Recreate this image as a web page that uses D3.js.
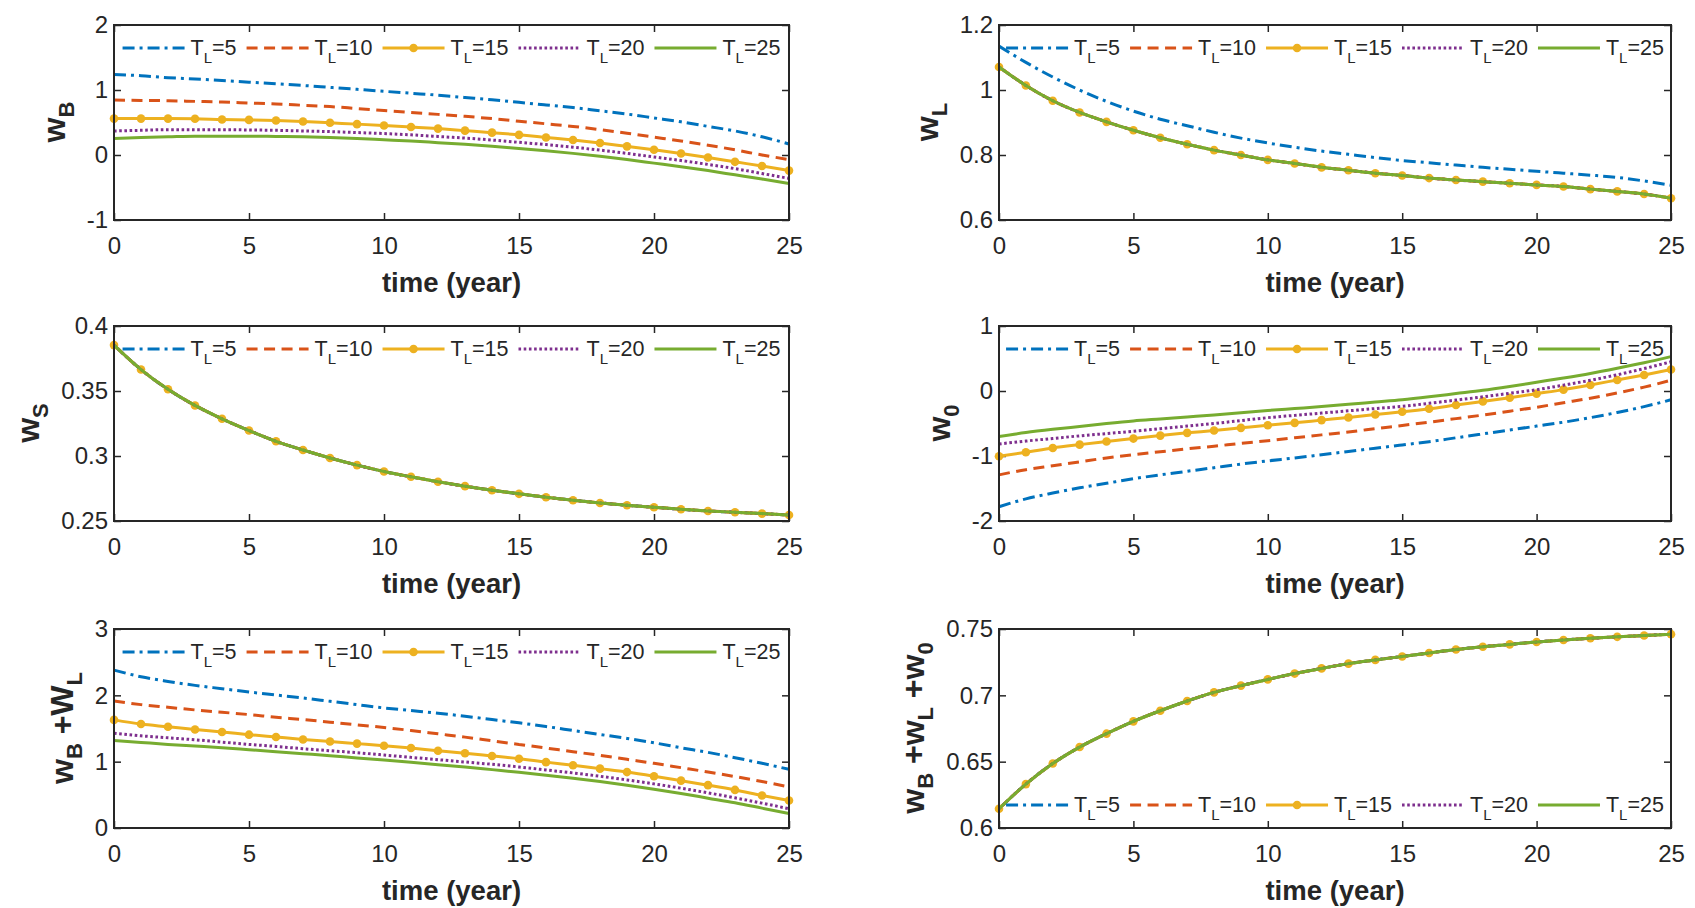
<!DOCTYPE html>
<html>
<head>
<meta charset="utf-8">
<script src="https://d3js.org/d3.v7.min.js"></script>
<style>
  body { margin: 0; background: #fff; }
  text { font-family: "Liberation Sans", Arial, Helvetica, sans-serif; fill: #262626; }
</style>
</head>
<body>
<svg id="fig" width="1695" height="908"></svg>
<script>
// ---- data: values at every year ----
var years = [0,1,2,3,4,5,6,7,8,9,10,11,12,13,14,15,16,17,18,19,20,21,22,23,24,25];
var seriesNames = ["5", "10", "15", "20", "25"];
var xTicks = [0, 5, 10, 15, 20, 25];

// w_B
var wB_5  = [1.24,1.22,1.19,1.17,1.145,1.12,1.095,1.07,1.04,1.01,0.98,0.95,0.92,0.885,0.85,0.81,0.77,0.73,0.68,0.63,0.57,0.51,0.44,0.37,0.28,0.17];
var wB_10 = [0.845,0.84,0.835,0.825,0.815,0.80,0.785,0.765,0.745,0.715,0.685,0.655,0.625,0.595,0.56,0.52,0.48,0.44,0.39,0.335,0.275,0.215,0.15,0.08,0.0,-0.07];
var wB_15 = [0.56,0.56,0.56,0.557,0.547,0.54,0.53,0.516,0.495,0.475,0.453,0.43,0.406,0.375,0.344,0.31,0.27,0.23,0.185,0.133,0.08,0.024,-0.038,-0.105,-0.17,-0.24];
var wB_20 = [0.37,0.38,0.39,0.39,0.39,0.385,0.38,0.37,0.36,0.345,0.33,0.31,0.285,0.26,0.23,0.195,0.16,0.12,0.075,0.025,-0.03,-0.085,-0.145,-0.21,-0.285,-0.36];
var wB_25 = [0.255,0.27,0.28,0.29,0.29,0.29,0.285,0.28,0.27,0.255,0.235,0.215,0.19,0.165,0.135,0.10,0.065,0.025,-0.02,-0.07,-0.125,-0.18,-0.24,-0.305,-0.37,-0.44];

// w_L
var wL_5    = [1.135,1.085,1.04,1.0,0.965,0.935,0.91,0.89,0.87,0.852,0.837,0.824,0.812,0.802,0.792,0.783,0.776,0.769,0.762,0.756,0.75,0.744,0.738,0.731,0.72,0.707];
var wL_rest = [1.071,1.014,0.967,0.931,0.902,0.876,0.853,0.833,0.815,0.80,0.785,0.774,0.762,0.753,0.744,0.737,0.729,0.723,0.718,0.713,0.708,0.703,0.695,0.688,0.680,0.667];

// w_S (all five curves coincide)
var wS_all = [0.3853,0.3665,0.3513,0.3389,0.3286,0.3196,0.3113,0.3046,0.2985,0.293,0.2881,0.284,0.2802,0.2768,0.2737,0.2709,0.2683,0.266,0.2639,0.2621,0.2606,0.259,0.2577,0.2567,0.2557,0.2546];

// w_0
var w0_5  = [-1.78,-1.66,-1.57,-1.49,-1.42,-1.35,-1.29,-1.235,-1.18,-1.125,-1.075,-1.03,-0.98,-0.93,-0.88,-0.83,-0.78,-0.72,-0.66,-0.60,-0.54,-0.48,-0.41,-0.33,-0.24,-0.135];
var w0_10 = [-1.29,-1.21,-1.15,-1.09,-1.03,-0.98,-0.935,-0.89,-0.85,-0.805,-0.765,-0.72,-0.675,-0.63,-0.58,-0.53,-0.48,-0.425,-0.37,-0.31,-0.25,-0.18,-0.11,-0.03,0.06,0.165];
var w0_15 = [-1.005,-0.943,-0.876,-0.825,-0.778,-0.732,-0.686,-0.644,-0.608,-0.567,-0.526,-0.49,-0.448,-0.407,-0.361,-0.32,-0.273,-0.216,-0.16,-0.103,-0.041,0.021,0.093,0.17,0.247,0.33];
var w0_20 = [-0.815,-0.77,-0.73,-0.69,-0.655,-0.62,-0.58,-0.54,-0.50,-0.455,-0.41,-0.375,-0.34,-0.305,-0.27,-0.237,-0.19,-0.14,-0.09,-0.035,0.02,0.09,0.165,0.25,0.345,0.45];
var w0_25 = [-0.70,-0.64,-0.59,-0.545,-0.50,-0.46,-0.43,-0.40,-0.37,-0.335,-0.30,-0.27,-0.24,-0.205,-0.17,-0.135,-0.09,-0.04,0.01,0.07,0.135,0.2,0.27,0.35,0.435,0.53];

// w_B + w_L
var wBL_5  = [2.38,2.28,2.21,2.15,2.10,2.05,2.005,1.96,1.91,1.86,1.81,1.77,1.73,1.685,1.635,1.585,1.53,1.47,1.41,1.35,1.285,1.21,1.14,1.06,0.975,0.885];
var wBL_10 = [1.915,1.86,1.82,1.78,1.745,1.71,1.67,1.635,1.595,1.555,1.515,1.47,1.42,1.37,1.315,1.26,1.205,1.15,1.095,1.035,0.975,0.91,0.845,0.775,0.70,0.62];
var wBL_15 = [1.63,1.567,1.526,1.484,1.448,1.407,1.371,1.335,1.303,1.272,1.241,1.205,1.164,1.127,1.086,1.045,0.993,0.947,0.895,0.843,0.781,0.714,0.646,0.574,0.491,0.414];
var wBL_20 = [1.43,1.39,1.36,1.33,1.295,1.26,1.23,1.195,1.165,1.135,1.10,1.065,1.03,0.995,0.96,0.92,0.875,0.83,0.78,0.725,0.665,0.60,0.53,0.455,0.375,0.29];
var wBL_25 = [1.32,1.29,1.26,1.235,1.21,1.18,1.15,1.12,1.09,1.055,1.025,0.99,0.955,0.92,0.88,0.84,0.795,0.75,0.70,0.645,0.585,0.52,0.45,0.38,0.30,0.22];

// w_B + w_L + w_0 (all five curves coincide)
var wSum_all = [0.6145,0.6331,0.6486,0.661,0.6711,0.6804,0.6884,0.6957,0.7022,0.7073,0.712,0.7164,0.7203,0.7239,0.7267,0.7293,0.7319,0.7345,0.7366,0.7384,0.7402,0.7417,0.743,0.7441,0.7451,0.7461];

// y ticks per panel
var ticksB = [-1, 0, 1, 2],          labelsB = ["-1", "0", "1", "2"];
var ticksL = [0.6, 0.8, 1, 1.2],     labelsL = ["0.6", "0.8", "1", "1.2"];
var ticksS = [0.25, 0.3, 0.35, 0.4], labelsS = ["0.25", "0.3", "0.35", "0.4"];
var ticks0 = [-2, -1, 0, 1],         labels0 = ["-2", "-1", "0", "1"];
var ticksBL = [0, 1, 2, 3],          labelsBL = ["0", "1", "2", "3"];
var ticksSum = [0.6, 0.65, 0.7, 0.75], labelsSum = ["0.6", "0.65", "0.7", "0.75"];

// ---- styles ----
var colors = ["#0072BD", "#D95319", "#EDB120", "#7E2F8E", "#77AC30"];
var dashes = ["12,5,3,5", "11,6.5", null, "2.6,2.6", null];
var axisColor = "#262626";
var lineW = 3;

var panels = [
  { col: 0, row: 0, domain: [-1, 2], ticks: ticksB, labels: labelsB, series: [wB_5, wB_10, wB_15, wB_20, wB_25],
    ylabel: [["w",0],["B",1]], legend: "top" },
  { col: 1, row: 0, domain: [0.6, 1.2], ticks: ticksL, labels: labelsL, series: [wL_5, wL_rest, wL_rest, wL_rest, wL_rest],
    ylabel: [["w",0],["L",1]], legend: "top" },
  { col: 0, row: 1, domain: [0.25, 0.4], ticks: ticksS, labels: labelsS, series: [wS_all, wS_all, wS_all, wS_all, wS_all],
    ylabel: [["w",0],["S",1]], legend: "top" },
  { col: 1, row: 1, domain: [-2, 1], ticks: ticks0, labels: labels0, series: [w0_5, w0_10, w0_15, w0_20, w0_25],
    ylabel: [["w",0],["0",1]], legend: "top" },
  { col: 0, row: 2, domain: [0, 3], ticks: ticksBL, labels: labelsBL, series: [wBL_5, wBL_10, wBL_15, wBL_20, wBL_25],
    ylabel: [["w",0],["B",1],[" +W",0],["L",1]], legend: "top" },
  { col: 1, row: 2, domain: [0.6, 0.75], ticks: ticksSum, labels: labelsSum, series: [wSum_all, wSum_all, wSum_all, wSum_all, wSum_all],
    ylabel: [["w",0],["B",1],[" +w",0],["L",1],[" +w",0],["0",1]], legend: "bottom" }
];

var colX = [114, 999], colW = [675, 672];
var rowY = [25, 326, 629], plotH = [195, 195, 199];

var svg = d3.select("#fig");

panels.forEach(function (p) {
  var w = colW[p.col], h = plotH[p.row];
  var g = svg.append("g").attr("transform", "translate(" + colX[p.col] + "," + rowY[p.row] + ")");

  var x = d3.scaleLinear().domain([0, 25]).range([0, w]);
  var y = d3.scaleLinear().domain(p.domain).range([h, 0]);

  // axes, ticks pointing in
  var styleAxis = function (a) {
    a.select(".domain").remove();
    a.selectAll(".tick line").attr("stroke", axisColor).attr("stroke-width", 1.5);
    a.selectAll(".tick text").attr("fill", axisColor).style("font-size", "24px");
  };
  g.append("g").attr("transform", "translate(0," + h + ")")
    .call(d3.axisBottom(x).tickValues(xTicks).tickFormat(function (d) { return d; }).tickSize(-7).tickPadding(17))
    .call(styleAxis);
  g.append("g")
    .call(d3.axisTop(x).tickValues(xTicks).tickFormat("").tickSize(-7))
    .call(styleAxis);
  var yAxis = g.append("g")
    .call(d3.axisLeft(y).tickValues(p.ticks).tickFormat(function (d, i) { return p.labels[i]; }).tickSize(-7).tickPadding(6))
    .call(styleAxis);
  g.append("g").attr("transform", "translate(" + w + ",0)")
    .call(d3.axisRight(y).tickValues(p.ticks).tickFormat("").tickSize(-7))
    .call(styleAxis);

  // lines
  var line = d3.line()
    .x(function (d, i) { return x(years[i]); })
    .y(function (d) { return y(d); })
    .curve(d3.curveMonotoneX);

  p.series.forEach(function (vals, k) {
    g.append("path")
      .attr("d", line(vals))
      .attr("fill", "none")
      .attr("stroke", colors[k])
      .attr("stroke-width", lineW)
      .attr("stroke-dasharray", dashes[k]);
    if (k === 2) {
      g.selectAll("circle.m" + k).data(vals).enter().append("circle")
        .attr("cx", function (d, i) { return x(years[i]); })
        .attr("cy", function (d) { return y(d); })
        .attr("r", 4.3)
        .attr("fill", colors[k]);
    }
  });

  // box
  g.append("rect").attr("width", w).attr("height", h)
    .attr("fill", "none").attr("stroke", axisColor).attr("stroke-width", 2);

  // x label
  g.append("text")
    .attr("x", w / 2).attr("y", h + 72)
    .attr("text-anchor", "middle")
    .style("font-size", "27.5px").style("font-weight", "bold")
    .text("time (year)");

  // y label: rotated, right edge just left of the tick labels
  var tickLeft = 0;
  yAxis.selectAll(".tick text").each(function () {
    var b = this.getBBox();
    if (b.x < tickLeft) tickLeft = b.x;
  });
  var yl = g.append("g");
  var yt = yl.append("text")
    .attr("transform", "rotate(-90)")
    .attr("text-anchor", "middle")
    .style("font-weight", "bold");
  var shift = 0;
  p.ylabel.forEach(function (part) {
    var isSub = part[1] === 1;
    var dy = isSub ? 9 - shift : -shift;
    shift = isSub ? 9 : 0;
    yt.append("tspan")
      .attr("dy", dy)
      .style("font-size", isSub ? "22px" : "32px")
      .style("white-space", "pre")
      .text(part[0]);
  });
  var bb = yl.node().getBBox();
  yl.attr("transform", "translate(" + (tickLeft - 8 - (bb.x + bb.width)) + "," + (h / 2 - (bb.y + bb.height / 2)) + ")");

  // legend, horizontal, no box
  var lg = g.append("g");
  var pos = 0;
  seriesNames.forEach(function (name, k) {
    var e = lg.append("g").attr("transform", "translate(" + pos + ",0)");
    e.append("line").attr("x1", 0).attr("x2", 62)
      .attr("stroke", colors[k]).attr("stroke-width", lineW)
      .attr("stroke-dasharray", dashes[k]);
    if (k === 2) e.append("circle").attr("cx", 31).attr("r", 4.3).attr("fill", colors[k]);
    var t = e.append("text").attr("x", 68).attr("y", 7).style("font-size", "21.5px");
    t.append("tspan").text("T");
    t.append("tspan").attr("dy", 8).style("font-size", "15px").text("L");
    t.append("tspan").attr("dy", -8).text("=" + name);
    pos += 68 + t.node().getComputedTextLength() + 10;
  });
  var legW = pos - 10;
  var legY = p.legend === "top" ? 23 : h - 23;
  lg.attr("transform", "translate(" + ((w - legW) / 2) + "," + legY + ")");
});
</script>
</body>
</html>
